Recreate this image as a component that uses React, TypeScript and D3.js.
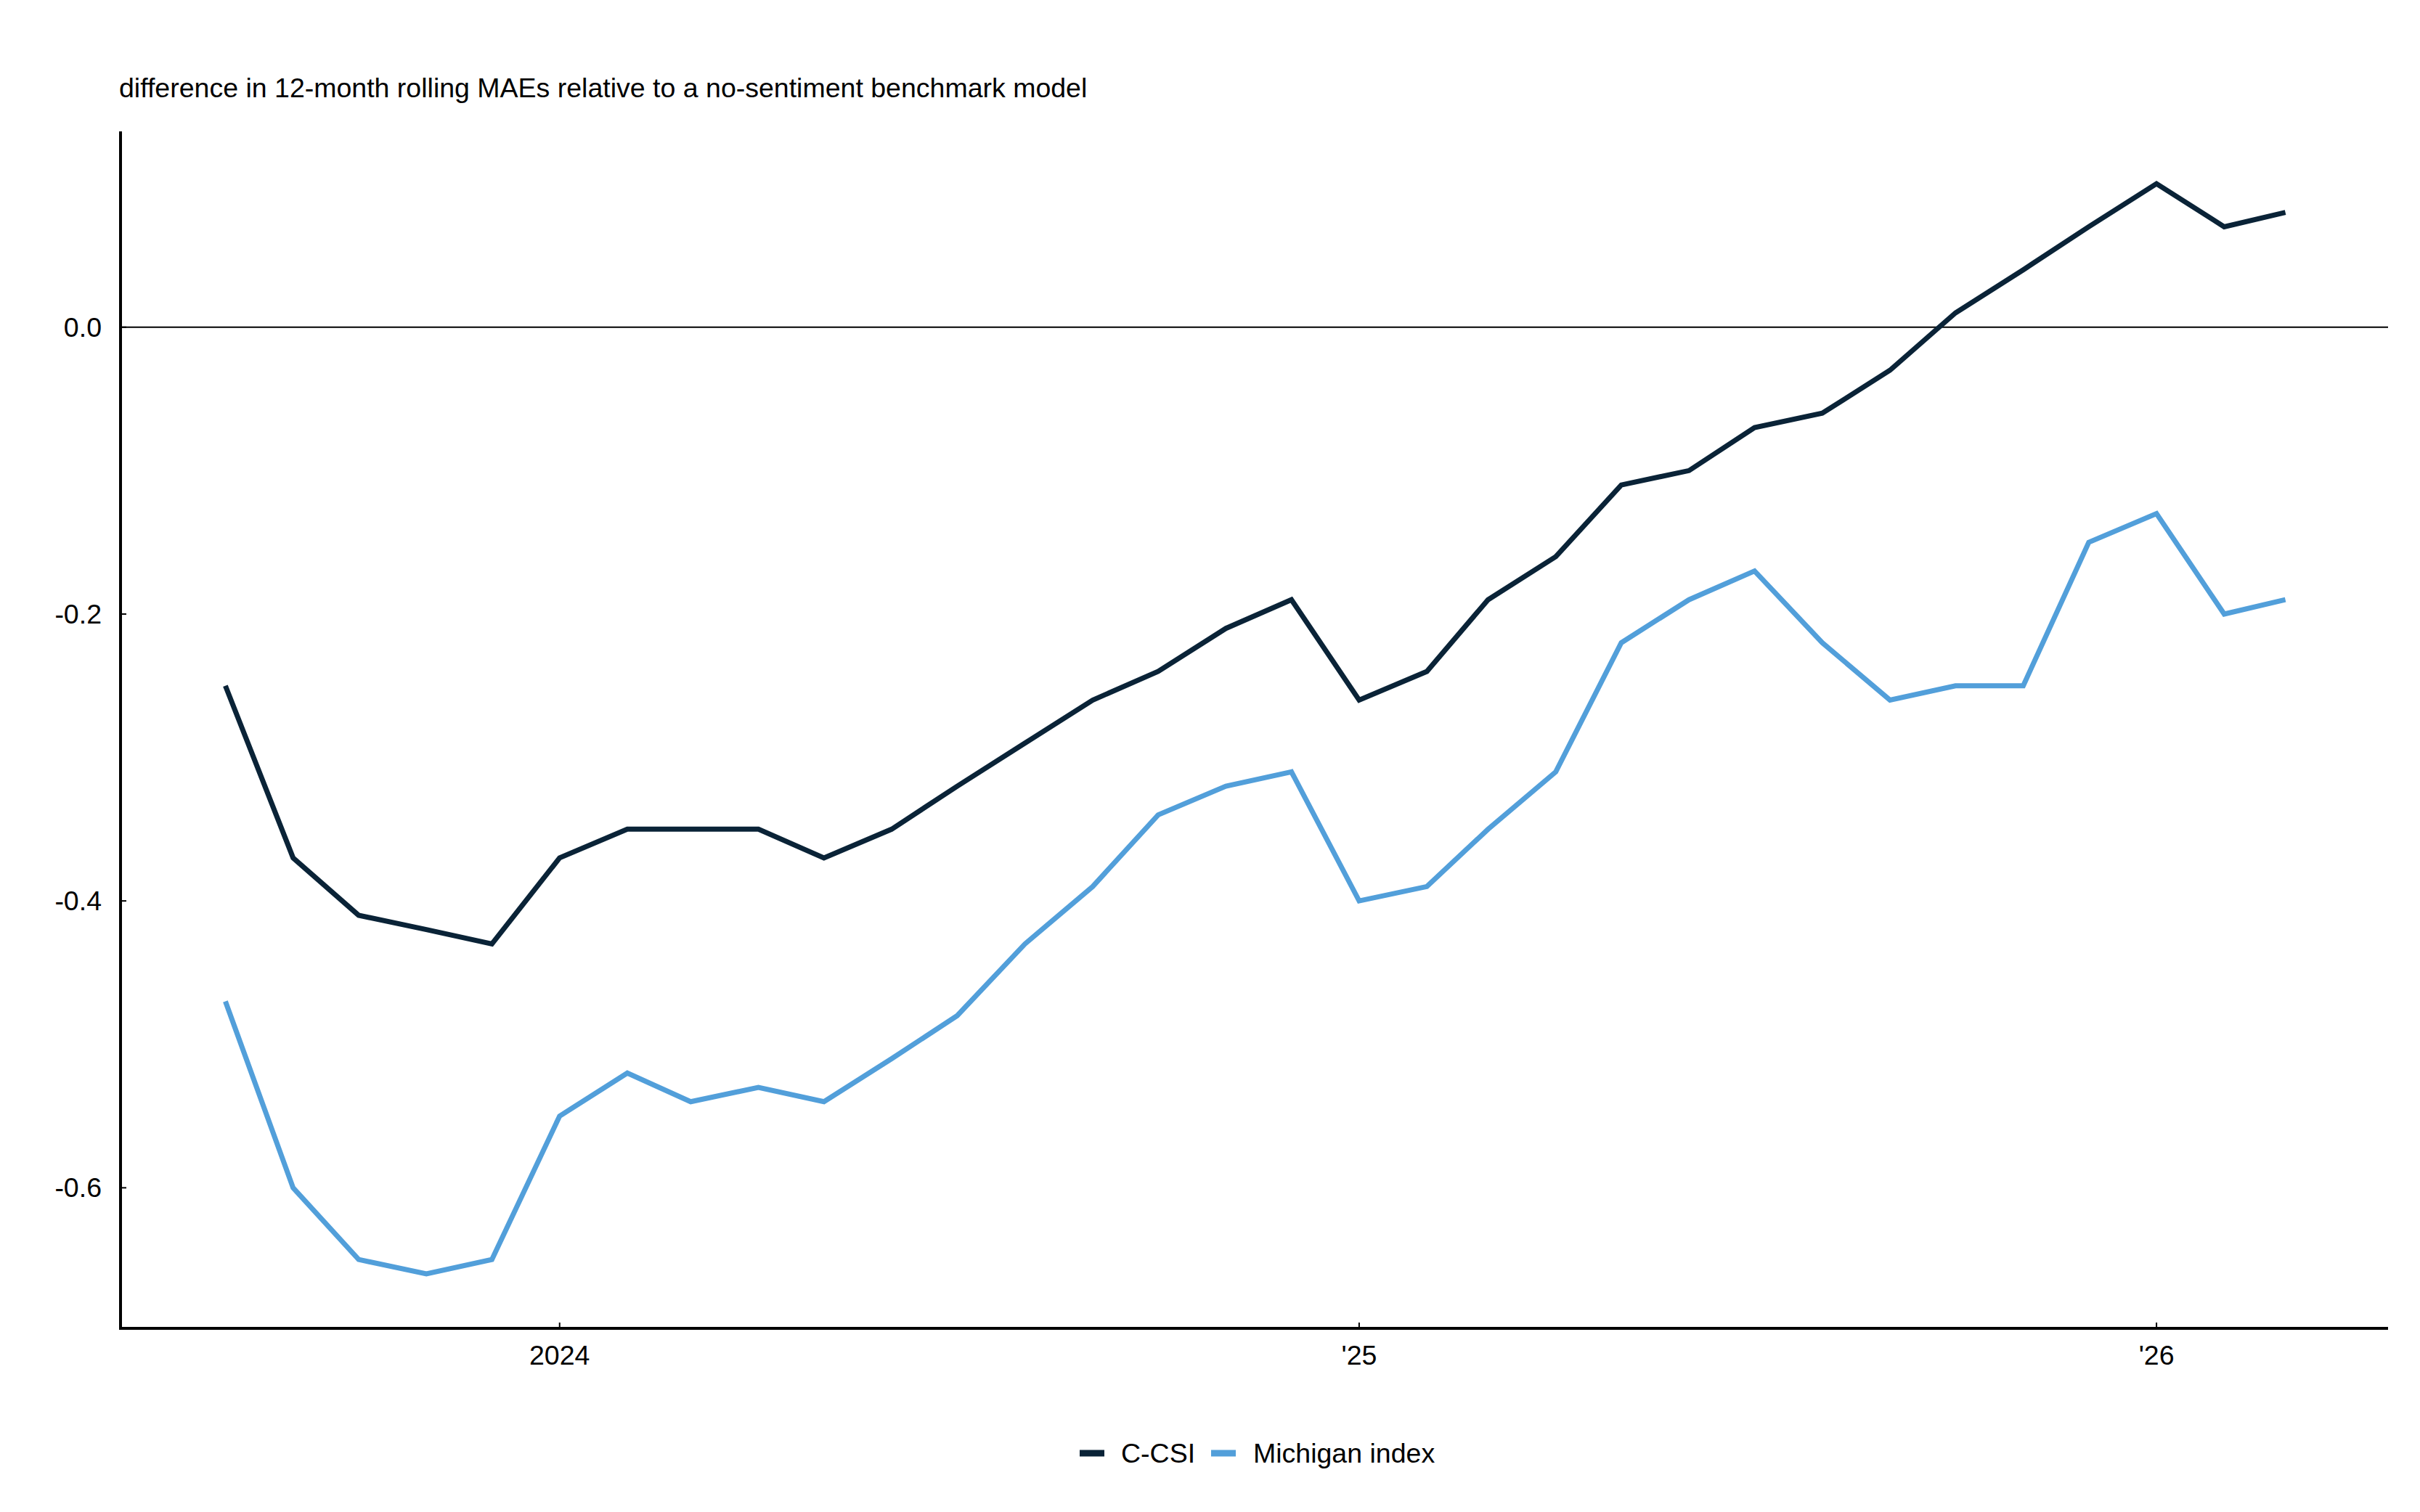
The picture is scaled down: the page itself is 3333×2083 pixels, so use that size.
import React, { useEffect } from "react";
import * as d3 from "d3";

const months: string[] = [
  "2023-08", "2023-09", "2023-10", "2023-11", "2023-12",
  "2024-01", "2024-02", "2024-03", "2024-04", "2024-05", "2024-06",
  "2024-07", "2024-08", "2024-09", "2024-10", "2024-11", "2024-12",
  "2025-01", "2025-02", "2025-03", "2025-04", "2025-05", "2025-06",
  "2025-07", "2025-08", "2025-09", "2025-10", "2025-11", "2025-12",
  "2026-01", "2026-02", "2026-03",
];

const ccsi: number[] = [
  -0.25, -0.37, -0.41, -0.42, -0.43,
  -0.37, -0.35, -0.35, -0.35, -0.37, -0.35,
  -0.32, -0.29, -0.26, -0.24, -0.21, -0.19,
  -0.26, -0.24, -0.19, -0.16, -0.11, -0.10,
  -0.07, -0.06, -0.03, 0.01, 0.04, 0.07,
  0.10, 0.07, 0.08,
];

const michigan: number[] = [
  -0.47, -0.60, -0.65, -0.66, -0.65,
  -0.55, -0.52, -0.54, -0.53, -0.54, -0.51,
  -0.48, -0.43, -0.39, -0.34, -0.32, -0.31,
  -0.40, -0.39, -0.35, -0.31, -0.22, -0.19,
  -0.17, -0.22, -0.26, -0.25, -0.25, -0.15,
  -0.13, -0.20, -0.19,
];

const seriesNames: string[] = ["C-CSI", "Michigan index"];
const seriesColors: string[] = ["#0a2337", "#529fda"];
const yTicks: number[] = [0.0, -0.2, -0.4, -0.6];
const xTickYears: number[] = [2024, 2025, 2026];
const title = "difference in 12-month rolling MAEs relative to a no-sentiment benchmark model";

const W = 3333;
const H = 2083;
const FONT = "'Liberation Sans', Arial, Helvetica, sans-serif";
const FS = 37.5;

export default function App() {
  useEffect(() => {
    document.body.style.margin = "0";
    document.body.style.overflow = "hidden";
  }, []);

  const left = 166;
  const right = 3289;
  const top = 181;
  const bottom = 1830;

  const x = d3
    .scaleTime()
    .domain([new Date(2023, 5, 14), new Date(2026, 3, 17)])
    .range([left, right]);
  const y = d3.scaleLinear().domain([-0.698, 0.1365]).range([bottom, top]);

  const dates = months.map((m) => d3.timeParse("%Y-%m")(m) as Date);
  const line = d3
    .line<number>()
    .x((_, i) => x(dates[i]))
    .y((d) => y(d));

  const allSeries = [ccsi, michigan];
  const fmtY = (v: number) => d3.format(".1f")(v).replace("\u2212", "-");
  const fmtX = (yr: number) => (yr === 2024 ? String(yr) : "'" + String(yr).slice(2));

  // legend layout
  const legendY = 2002;
  const legendItems = [
    { sx: 1487, tx: 1544 },
    { sx: 1668, tx: 1726 },
  ];

  return (
    <svg width={W} height={H} style={{ display: "block", background: "#fff" }} fontFamily={FONT}>
      <rect x={0} y={0} width={W} height={H} fill="#fff" />
      <text x={left - 2} y={134} fontSize={FS} fill="#000">
        {title}
      </text>

      {/* zero line */}
      <line x1={left} x2={right} y1={y(0)} y2={y(0)} stroke="#000" strokeWidth={2} />

      {/* y ticks */}
      {yTicks.map((t) => (
        <g key={"y" + t}>
          <line x1={left} x2={left + 8} y1={y(t)} y2={y(t)} stroke="#000" strokeWidth={2} />
          <text x={140} y={y(t)} dy="0.35em" textAnchor="end" fontSize={FS} fill="#000">
            {fmtY(t)}
          </text>
        </g>
      ))}

      {/* x ticks */}
      {xTickYears.map((yr) => {
        const xp = x(new Date(yr, 0, 1));
        return (
          <g key={"x" + yr}>
            <line x1={xp} x2={xp} y1={bottom} y2={bottom - 8} stroke="#000" strokeWidth={2} />
            <text x={xp} y={1880} textAnchor="middle" fontSize={FS} fill="#000">
              {fmtX(yr)}
            </text>
          </g>
        );
      })}

      {/* series */}
      {allSeries.map((s, i) => (
        <path key={"s" + i} d={line(s) || ""} fill="none" stroke={seriesColors[i]} strokeWidth={7} />
      ))}

      {/* axes */}
      <line x1={left} x2={left} y1={top} y2={bottom + 2} stroke="#000" strokeWidth={4} />
      <line x1={left - 2} x2={right} y1={bottom} y2={bottom} stroke="#000" strokeWidth={4} />

      {/* legend */}
      {seriesNames.map((n, i) => (
        <g key={"l" + i}>
          <line
            x1={legendItems[i].sx}
            x2={legendItems[i].sx + 34}
            y1={legendY}
            y2={legendY}
            stroke={seriesColors[i]}
            strokeWidth={9}
          />
          <text x={legendItems[i].tx} y={legendY + 13} fontSize={FS} fill="#000">
            {n}
          </text>
        </g>
      ))}
    </svg>
  );
}
